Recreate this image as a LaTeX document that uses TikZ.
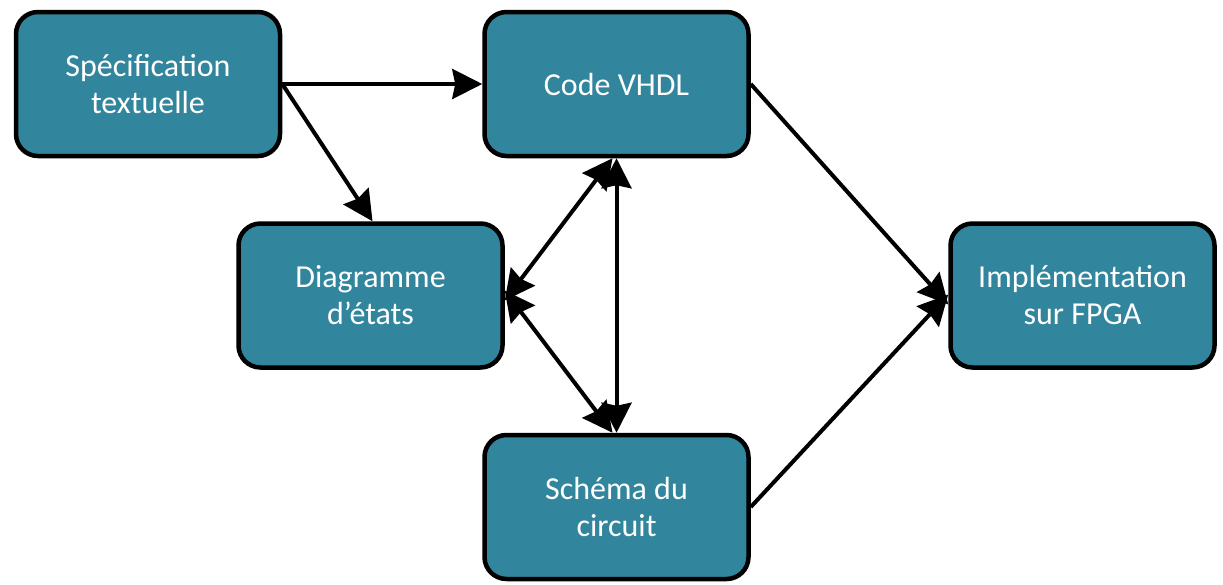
\documentclass[tikz,border=0pt]{standalone}
\usepackage{fontspec}
\setmainfont{Carlito}
\usetikzlibrary{arrows.meta}
\definecolor{boxteal}{HTML}{31859C}
\tikzset{
  etape/.style={draw=black, line width=4.5pt, fill=boxteal, rounded corners=22pt,
    minimum width=264pt, minimum height=144pt, text=white, align=center,
    font=\fontsize{32}{37}\selectfont},
  fleche/.style={line width=4pt, -{Stealth[length=30pt, width=30pt, inset=3pt]}},
  double/.style={line width=4pt, {Stealth[length=30pt, width=30pt, inset=3pt]}-{Stealth[length=30pt, width=30pt, inset=3pt]}}
}
\begin{document}
\begin{tikzpicture}[x=1pt, y=-1pt]
                \useasboundingbox (0,0) rectangle (1223,584);
                \node[etape] (spec) at (148,84) {Spécification\\textuelle};
                \node[etape] (vhdl) at (616.5,84) {Code VHDL};
                \node[etape] (diag) at (370.5,295.5) {Diagramme\\d’états};
                \node[etape] (fpga) at (1082.5,295.5) {Implémentation\\sur FPGA};
                \node[etape] (schema) at (616.5,507) {Schéma du\\circuit};
                \draw[fleche] (spec.east) -- (vhdl.west);
                \draw[fleche] (spec.east) -- ([xshift=2pt]diag.north);
                \draw[fleche] (vhdl.east) -- ([yshift=-9pt]fpga.west);
                \draw[fleche] (schema.east) -- ([yshift=1pt]fpga.west);
                \draw[double] (vhdl.south) -- (schema.north);
                \draw[double] ([yshift=-5pt]diag.east) -- ([xshift=-4pt]vhdl.south);
                \draw[double] ([yshift=5pt]diag.east) -- ([xshift=-4pt]schema.north);
            \end{tikzpicture}
\end{document}
